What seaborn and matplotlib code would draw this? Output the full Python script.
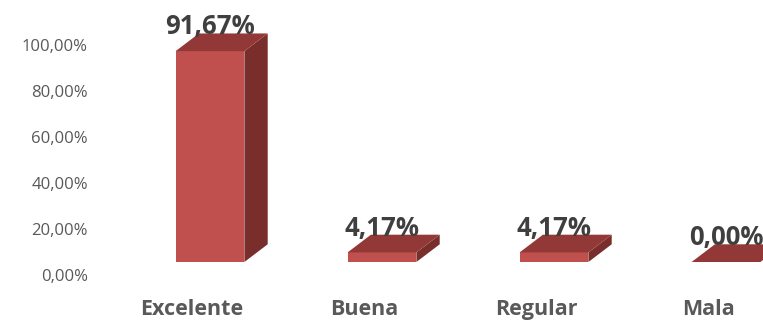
import matplotlib
matplotlib.use("Agg")
import matplotlib.pyplot as plt
from matplotlib.patches import Polygon
from matplotlib.transforms import ScaledTranslation
import seaborn as sns
import pandas as pd

categories = ["Excelente", "Buena", "Regular", "Mala"]
values = [91.67, 4.17, 4.17, 0.00]
tick_values = [0, 20, 40, 60, 80, 100]
tick_labels = ["0,00%", "20,00%", "40,00%", "60,00%", "80,00%", "100,00%"]
value_labels = ["91,67%", "4,17%", "4,17%", "0,00%"]

FRONT = "#C0504D"
TOP = "#923836"
SIDE = "#7A2E2C"

sns.set_theme(style="white")
plt.rcParams["font.family"] = ["Open Sans", "DejaVu Sans"]

fig = plt.figure(figsize=(7.63, 3.25), dpi=100)
ax = fig.add_axes([106 / 763, 50 / 325, 657 / 763, 270 / 325])

df = pd.DataFrame({"categoria": categories, "porcentaje": values})
sns.barplot(data=df, x="categoria", y="porcentaje", order=categories,
            color=FRONT, saturation=1, width=0.4, ax=ax)

ax.set_xlim(-0.5, -0.5 + 657 / 172)
ax.set_ylim(0, 270 / 2.3)

# 3D look: front faces sit slightly up/right on the floor, with a receding top and side
shift = ax.transData + ScaledTranslation(0.18, 0.13, fig.dpi_scale_trans)
dx, dy = 0.1355, 7.7

for patch, label in zip(ax.patches, value_labels):
    patch.set_transform(shift)
    patch.set_edgecolor("none")
    patch.set_clip_on(False)
    x0 = patch.get_x()
    w = patch.get_width()
    h = patch.get_height()
    top = Polygon([(x0, h), (x0 + w, h), (x0 + w + dx, h + dy), (x0 + dx, h + dy)],
                  closed=True, facecolor=TOP, edgecolor="none", transform=shift,
                  clip_on=False)
    side = Polygon([(x0 + w, 0), (x0 + w + dx, dy), (x0 + w + dx, h + dy), (x0 + w, h)],
                   closed=True, facecolor=SIDE, edgecolor="none", transform=shift,
                   clip_on=False)
    ax.add_patch(side)
    ax.add_patch(top)
    ax.text(x0 + w / 2, h + dy - 0.4, label, transform=shift, ha="center",
            va="baseline", fontsize=18.5, fontweight="bold", color="#3F3F3F",
            clip_on=False)

ax.set_yticks(tick_values)
ax.set_yticklabels(tick_labels)
ax.set_xlabel("")
ax.set_ylabel("")
ax.tick_params(axis="y", length=0, pad=13, labelsize=12, labelcolor="#595959")
ax.tick_params(axis="x", length=0, pad=17, labelsize=15.5, labelcolor="#595959")
for lbl in ax.get_xticklabels():
    lbl.set_fontweight("bold")
for s in ax.spines.values():
    s.set_visible(False)
ax.grid(False)

fig.savefig("out.png", dpi=100)
